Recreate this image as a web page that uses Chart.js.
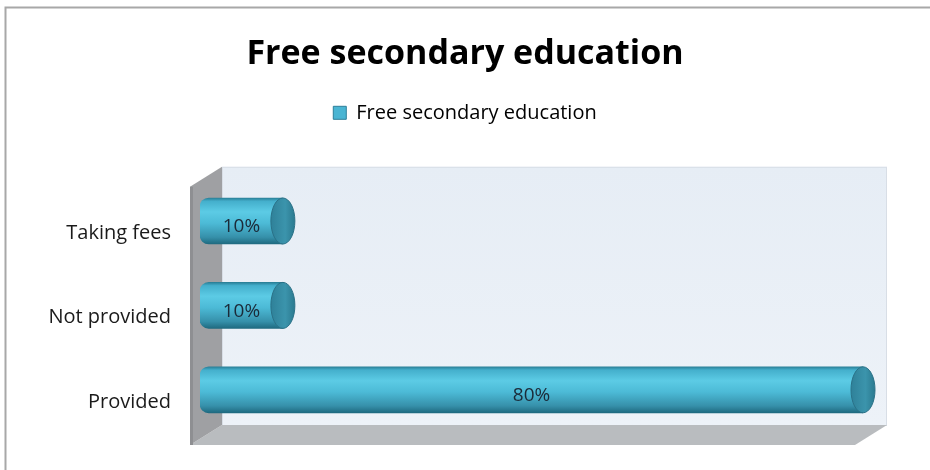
<!DOCTYPE html>
<html>
<head>
<meta charset="utf-8">
<script src="https://cdn.jsdelivr.net/npm/chart.js@4.4.1/dist/chart.umd.min.js"></script>
<style>
  html, body { margin: 0; padding: 0; background: #fff; }
  #wrap { width: 930px; height: 470px; position: relative; }
</style>
</head>
<body>
<div id="wrap"><canvas id="c" width="930" height="470"></canvas></div>
<script>
// data
const categories = ['Taking fees', 'Not provided', 'Provided'];
const shares = [10, 10, 80];
const seriesName = 'Free secondary education';
const chartTitle = 'Free secondary education';

const FONT = '"Open Sans", "DejaVu Sans", sans-serif';

// gray frame round the picture
const framePlugin = {
  id: 'frame',
  afterDraw(chart) {
    const c = chart.ctx;
    c.save();
    c.strokeStyle = '#a8a8a8';
    c.lineWidth = 2;
    c.beginPath();
    c.moveTo(5.5, 470);
    c.lineTo(5.5, 7.5);
    c.lineTo(930, 7.5);
    c.stroke();
    c.restore();
  }
};

// 3d walls behind the bars
const wallsPlugin = {
  id: 'walls',
  beforeDatasetsDraw(chart) {
    const c = chart.ctx;
    const a = chart.chartArea;
    const dx = 32, dy = 20;
    const fl = a.left - 10, fb = a.bottom + 13;   // front-left corner of floor
    const fr = a.right - 8;
    const top = a.top + 8;                         // front top of left wall
    c.save();
    // back wall
    const g = c.createLinearGradient(0, top - dy, 0, fb - dy);
    g.addColorStop(0, '#e6edf5');
    g.addColorStop(1, '#edf2f8');
    c.fillStyle = g;
    c.fillRect(fl + dx, top - dy, fr - fl, fb - top);
    c.strokeStyle = '#d8dee6';
    c.lineWidth = 1;
    c.strokeRect(fl + dx + 0.5, top - dy + 0.5, fr - fl - 1, fb - top);
    // floor
    c.fillStyle = '#b9bcbf';
    c.beginPath();
    c.moveTo(fl, fb);
    c.lineTo(fr, fb);
    c.lineTo(fr + dx, fb - dy);
    c.lineTo(fl + dx, fb - dy);
    c.closePath();
    c.fill();
    // left wall
    c.fillStyle = '#9fa0a3';
    c.beginPath();
    c.moveTo(fl, top);
    c.lineTo(fl + dx, top - dy);
    c.lineTo(fl + dx, fb - dy);
    c.lineTo(fl, fb);
    c.closePath();
    c.fill();
    c.fillStyle = '#8e8f92';
    c.fillRect(fl, top, 3, fb - top);
    c.restore();
  }
};

// cylinder end caps and the value labels
const capsPlugin = {
  id: 'caps',
  afterDatasetsDraw(chart) {
    const c = chart.ctx;
    const meta = chart.getDatasetMeta(0);
    c.save();
    meta.data.forEach((bar, i) => {
      const h = bar.height;
      const g = c.createLinearGradient(bar.x - 12, 0, bar.x + 12, 0);
      g.addColorStop(0, '#2f8199');
      g.addColorStop(0.6, '#3b94ac');
      g.addColorStop(1, '#2b7a90');
      c.fillStyle = g;
      c.beginPath();
      c.ellipse(bar.x, bar.y, 12, h / 2, 0, 0, Math.PI * 2);
      c.fill();
      c.strokeStyle = '#2a7187';
      c.lineWidth = 1;
      c.stroke();

      c.fillStyle = '#1b2a38';
      c.font = '19px ' + FONT;
      c.textAlign = 'center';
      c.textBaseline = 'middle';
      c.fillText(shares[i] + '%', (bar.base + bar.x) / 2, bar.y + 6);
    });
    c.restore();
  }
};

function barFill(ctx) {
  const chart = ctx.chart;
  const y = chart.scales && chart.scales.y;
  if (!y || ctx.dataIndex === undefined) return '#4ab8d5';
  const mid = y.getPixelForValue(ctx.dataIndex);
  const g = chart.ctx.createLinearGradient(0, mid - 23, 0, mid + 23);
  g.addColorStop(0, '#2a8098');
  g.addColorStop(0.07, '#44afcc');
  g.addColorStop(0.3, '#5ccbe5');
  g.addColorStop(0.55, '#4cbad6');
  g.addColorStop(0.85, '#3690aa');
  g.addColorStop(1, '#1f6a80');
  return g;
}

new Chart(document.getElementById('c'), {
  type: 'bar',
  data: {
    labels: categories,
    datasets: [{
      label: seriesName,
      data: shares,
      backgroundColor: barFill,
      barThickness: 46,
      borderSkipped: false,
      borderRadius: { topLeft: 9, bottomLeft: 9, topRight: 0, bottomRight: 0 },
      borderWidth: 0
    }]
  },
  options: {
    indexAxis: 'y',
    responsive: false,
    animation: false,
    layout: { padding: { left: 5, right: 5, top: 0, bottom: 38 } },
    plugins: {
      title: {
        display: true,
        text: chartTitle,
        color: '#000',
        font: { family: FONT, size: 34, weight: 'bold' },
        padding: { top: 34, bottom: 18 }
      },
      legend: {
        display: true,
        position: 'top',
        labels: {
          color: '#222',
          font: { family: FONT, size: 20 },
          boxWidth: 13,
          boxHeight: 13,
          padding: 10,
          generateLabels: (chart) => [{
            text: seriesName,
            fillStyle: '#4ab5d3',
            strokeStyle: '#2d7f99',
            lineWidth: 1,
            datasetIndex: 0
          }]
        }
      },
      tooltip: { enabled: false }
    },
    scales: {
      x: {
        position: 'top',
        min: 0,
        max: 80,
        ticks: { display: false },
        grid: { display: false },
        border: { display: false },
        afterFit: (s) => { s.height = 46; }
      },
      y: {
        grid: { display: false },
        border: { display: false },
        ticks: {
          color: '#1a1a1a',
          font: { family: FONT, size: 20 },
          padding: 21,
          labelOffset: 12
        },
        afterFit: (s) => { s.width = 195; }
      },
      // empty spacer on the right so the plot ends where the reference does
      yRight: {
        type: 'linear',
        position: 'right',
        min: 0,
        max: 1,
        ticks: { display: false },
        grid: { display: false },
        border: { display: false },
        afterFit: (s) => { s.width = 62; }
      }
    }
  },
  plugins: [framePlugin, wallsPlugin, capsPlugin]
});
</script>
</body>
</html>
